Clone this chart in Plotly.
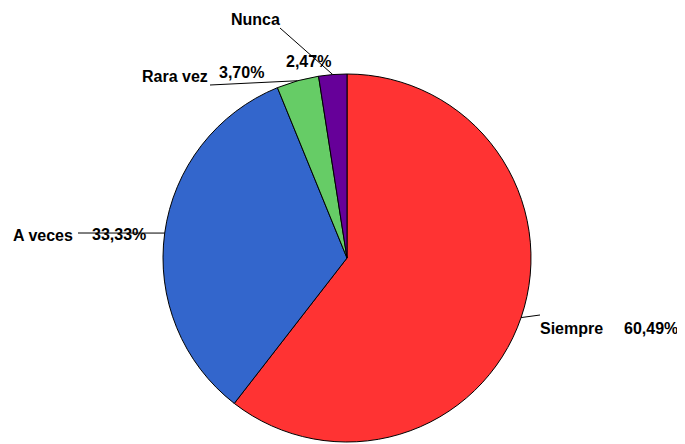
import math
import plotly.graph_objects as go

categories = ["Siempre", "A veces", "Rara vez", "Nunca"]
values = [60.49, 33.33, 3.70, 2.47]
colors = ["#FF3333", "#3366CC", "#66CC66", "#660099"]

W, H = 685, 444
OFF = 8  # page body margin of the browser
# pie geometry (screen pixels)
cx, cy, r = 347, 258, 184

def px2paper(x, y):
    return (x - OFF) / W, 1 - (y - OFF) / H

fig = go.Figure()
x0, y1 = px2paper(cx - r, cy - r)
x1, y0 = px2paper(cx + r, cy + r)
fig.add_trace(go.Pie(
    labels=categories, values=values, sort=False, direction="clockwise",
    rotation=0, textinfo="none", hoverinfo="label+percent",
    marker=dict(colors=colors, line=dict(color="#000000", width=1)),
    domain=dict(x=[x0, x1], y=[y0, y1]),
    showlegend=False,
))

def fmt(v):
    return f"{v:.2f}".replace(".", ",") + "%"

# label layout: (name pos, pct pos, leader outer end) in screen pixels
label_pos = {
    "Siempre": ((571, 328), (651, 328), (540, 315)),
    "A veces": ((43, 235), (119, 234), (78, 233)),
    "Rara vez": ((175, 76), (241, 73), (210, 85)),
    "Nunca": ((255, 20), (308, 61), (280, 28)),
}

total = sum(values)
cum = 0
shapes = []
annotations = []
for cat, v in zip(categories, values):
    mid = (cum + v / 2) / total * 2 * math.pi
    cum += v
    ex = cx + r * math.sin(mid)
    ey = cy - r * math.cos(mid)
    (nx, ny), (tx2, ty2), (ox, oy) = label_pos[cat]
    ax0, ay0 = px2paper(ex, ey)
    ax1, ay1 = px2paper(ox, oy)
    shapes.append(dict(type="line", xref="paper", yref="paper",
                       x0=ax0, y0=ay0, x1=ax1, y1=ay1,
                       line=dict(color="#000000", width=1)))
    for t, (tx, ty) in ((cat, (nx, ny)), (fmt(v), (tx2, ty2))):
        px_, py_ = px2paper(tx, ty)
        annotations.append(dict(text=f"<b>{t}</b>", x=px_, y=py_,
                                xref="paper", yref="paper", showarrow=False,
                                xanchor="center", yanchor="middle",
                                font=dict(family="Liberation Sans, Arial", size=16, color="#000000")))

fig.update_layout(
    width=W, height=H, margin=dict(l=0, r=0, t=0, b=0),
    paper_bgcolor="#FFFFFF", plot_bgcolor="#FFFFFF",
    shapes=shapes, annotations=annotations,
)
fig.write_html("out.html")
